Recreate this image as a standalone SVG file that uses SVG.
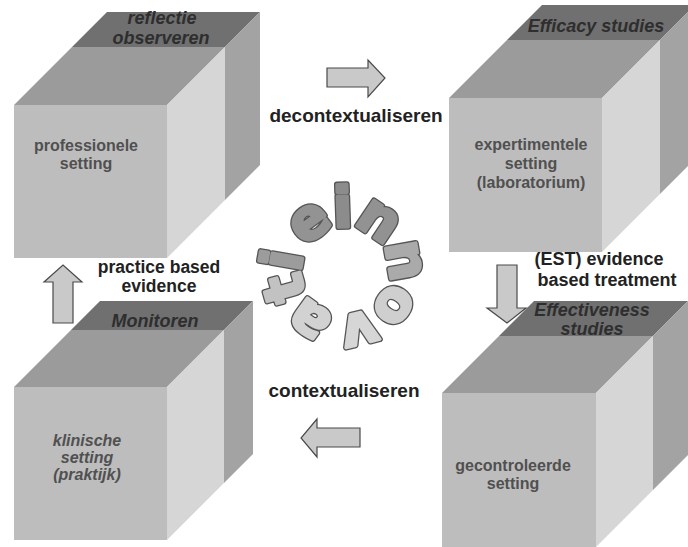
<svg xmlns="http://www.w3.org/2000/svg" width="688" height="547" viewBox="0 0 688 547">
<style>
.front{fill:#bdbdbd}
.topf{fill:#9b9b9b}
.band{fill:#707070}
.rlight{fill:#d6d6d6}
.rdark{fill:#a3a3a3}
.body{font-family:"Liberation Sans",Arial,sans-serif;font-weight:bold;font-size:16px;fill:#505050;text-anchor:middle}
.bodyi{font-style:italic}
.bandt{font-family:"Liberation Sans",Arial,sans-serif;font-weight:bold;font-style:italic;font-size:18px;fill:#2e2e2e;text-anchor:middle}
.lbl{font-family:"Liberation Sans",Arial,sans-serif;font-weight:bold;fill:#222;text-anchor:middle}
.arrow{fill:#c9c9c9;stroke:#4a4a4a;stroke-width:1.2;stroke-linejoin:miter}
.ring text{font-family:"DejaVu Sans",sans-serif;font-weight:bold;font-size:56px;text-anchor:middle;stroke-linejoin:round}
.ring .ol{fill:#555;stroke:#555;stroke-width:6}
</style>
<rect width="688" height="547" fill="#fff"/>

<g id="cube-professionele">
<rect class="front" x="14" y="105" width="153" height="153"/>
<polygon class="topf" points="14,105 167,105 225,47 72,47"/>
<polygon class="band" points="72,47 225,47 260,12 107,12"/>
<polygon class="rlight" points="167,105 225,47 225,200 167,258"/>
<polygon class="rdark" points="225,47 260,12 260,165 225,200"/>
<text class="bandt" x="162" y="24">reflectie</text>
<text class="bandt" x="161" y="44">observeren</text>
<text class="body" x="86" y="151">professionele</text>
<text class="body" x="86" y="169">setting</text>
</g>

<g id="cube-experimentele">
<rect class="front" x="449" y="98" width="153" height="154"/>
<polygon class="topf" points="449,98 602,98 660,40 507,40"/>
<polygon class="band" points="507,40 660,40 695,5 542,5"/>
<polygon class="rlight" points="602,98 660,40 660,194 602,252"/>
<polygon class="rdark" points="660,40 695,5 695,159 660,194"/>
<text class="bandt" x="596" y="32">Efficacy studies</text>
<text class="body" x="531" y="150">expertimentele</text>
<text class="body" x="531" y="169">setting</text>
<text class="body" x="531" y="188">(laboratorium)</text>
</g>

<g id="cube-klinische">
<rect class="front" x="14" y="387" width="153" height="153"/>
<polygon class="topf" points="14,387 167,387 224,330 71,330"/>
<polygon class="band" points="71,330 224,330 253,301 100,301"/>
<polygon class="rlight" points="167,387 224,330 224,483 167,540"/>
<polygon class="rdark" points="224,330 253,301 253,454 224,483"/>
<text class="bandt" x="155" y="327">Monitoren</text>
<text class="body bodyi" x="87" y="446">klinische</text>
<text class="body bodyi" x="87" y="463">setting</text>
<text class="body bodyi" x="87" y="480">(praktijk)</text>
</g>

<g id="cube-gecontroleerde">
<rect class="front" x="442" y="393" width="154" height="154"/>
<polygon class="topf" points="442,393 596,393 653,336 499,336"/>
<polygon class="band" points="499,336 653,336 688,301 534,301"/>
<polygon class="rlight" points="596,393 653,336 653,490 596,547"/>
<polygon class="rdark" points="653,336 688,301 688,455 653,490"/>
<text class="bandt" x="592" y="316" font-size="17">Effectiveness</text>
<text class="bandt" x="592" y="335" font-size="17">studies</text>
<text class="body" x="513" y="471">gecontroleerde</text>
<text class="body" x="513" y="489">setting</text>
</g>

<g id="innovatie" class="ring">
<g class="ol">
<text x="345" y="227" transform="rotate(-2 345 271)">i</text>
<text x="345" y="227" transform="rotate(34 345 271)">n</text>
<text x="345" y="227" transform="rotate(80 345 271)">n</text>
<text x="345" y="227" transform="rotate(125 345 271)">o</text>
<text x="345" y="227" transform="rotate(166 345 271)">v</text>
<text x="345" y="227" transform="rotate(216 345 271)">a</text>
<text x="345" y="227" transform="rotate(254 345 271)">t</text>
<text x="345" y="227" transform="rotate(280 345 271)">i</text>
<text x="345" y="227" transform="rotate(324 345 271)">e</text>
</g>
<text x="345" y="227" fill="#8c8c8c" stroke="#8c8c8c" stroke-width="3.4" transform="rotate(-2 345 271)">i</text>
<text x="345" y="227" fill="#929292" stroke="#929292" stroke-width="3.4" transform="rotate(34 345 271)">n</text>
<text x="345" y="227" fill="#aaaaaa" stroke="#aaaaaa" stroke-width="3.4" transform="rotate(80 345 271)">n</text>
<text x="345" y="227" fill="#cfcfcf" stroke="#cfcfcf" stroke-width="3.4" transform="rotate(125 345 271)">o</text>
<text x="345" y="227" fill="#d6d6d6" stroke="#d6d6d6" stroke-width="3.4" transform="rotate(166 345 271)">v</text>
<text x="345" y="227" fill="#d2d2d2" stroke="#d2d2d2" stroke-width="3.4" transform="rotate(216 345 271)">a</text>
<text x="345" y="227" fill="#c2c2c2" stroke="#c2c2c2" stroke-width="3.4" transform="rotate(254 345 271)">t</text>
<text x="345" y="227" fill="#9c9c9c" stroke="#9c9c9c" stroke-width="3.4" transform="rotate(280 345 271)">i</text>
<text x="345" y="227" fill="#939393" stroke="#939393" stroke-width="3.4" transform="rotate(324 345 271)">e</text>
</g>

<g id="connectors">
<polygon class="arrow" points="327,68 368,68 368,60 385,78 368,97 368,87 327,87"/>
<polygon class="arrow" points="497,265 517,265 517,308 526,308 507,323 487,308 497,308"/>
<polygon class="arrow" points="360,428 317,428 317,419 301,438 317,457 317,447 360,447"/>
<polygon class="arrow" points="53,323 53,282 44,282 63,265 82,282 73,282 73,323"/>
<text class="lbl" x="356" y="122" font-size="19">decontextualiseren</text>
<text class="lbl" x="344" y="397" font-size="19">contextualiseren</text>
<text class="lbl" x="159" y="273" font-size="17.5">practice based</text>
<text class="lbl" x="159" y="292" font-size="17.5">evidence</text>
<text class="lbl" x="599" y="265" font-size="18">(EST) evidence</text>
<text class="lbl" x="607" y="286" font-size="18">based treatment</text>
</g>
</svg>
